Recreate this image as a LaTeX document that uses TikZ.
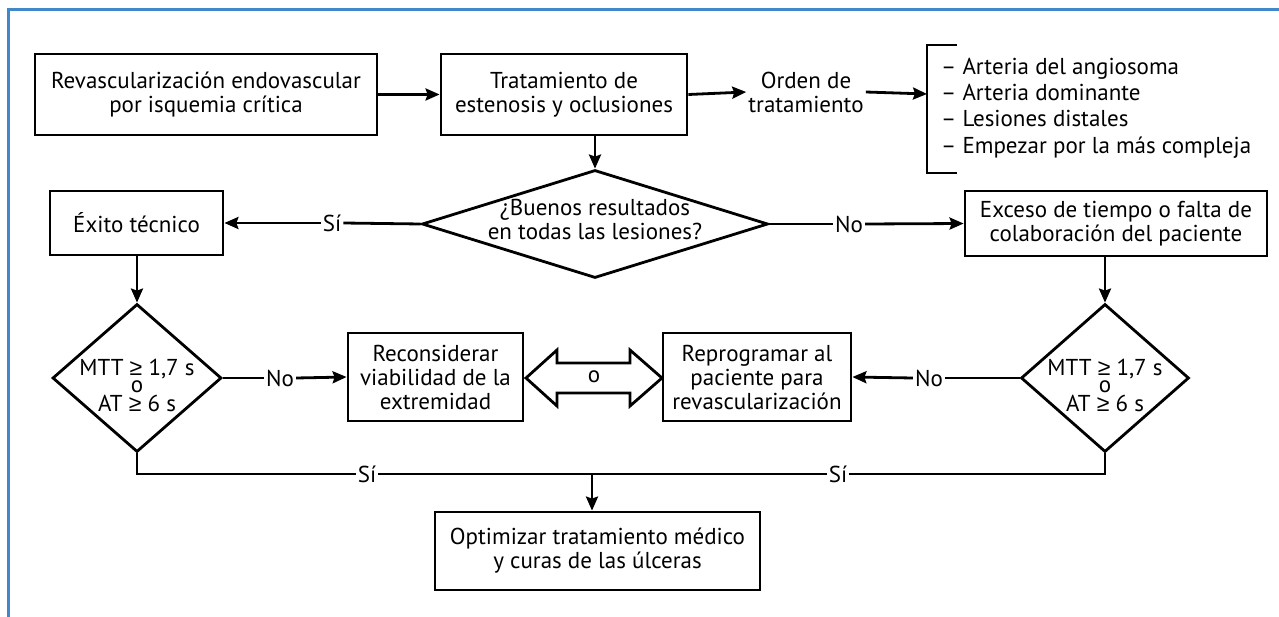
\documentclass[tikz,border=0pt]{standalone}
\usepackage{fontspec}
\setmainfont{PT Sans}
\newfontfamily\geqfont{Liberation Sans}
\usetikzlibrary{arrows.meta,shapes.geometric}
\definecolor{frameblue}{RGB}{66,134,204}
\newcommand{\mygeq}{{\geqfont ≥}}
\begin{document}
\begin{tikzpicture}[x=1pt,y=-1pt,
  txt/.style={font=\fontsize{23}{24}\selectfont},
  box/.style={draw, line width=2.8pt, align=center, inner sep=0pt, txt},
  dia/.style={draw, diamond, line width=2.8pt, inner sep=0pt},
  lbl/.style={txt, align=center, inner sep=2pt},
  con/.style={line width=2.8pt},
  arr/.style={con, -{Stealth[length=14pt,width=12pt,inset=2pt]}},
]
\useasboundingbox (0,0) rectangle (1279,617);
\draw[line width=3pt, frameblue] (8,617) -- (8,10) -- (1279,10);

% top row
\node[box, minimum width=342pt, minimum height=81pt] (b1) at (206,94.5) {Revascularización endovascular\\por isquemia crítica};
\node[box, minimum width=246pt, minimum height=81pt] (b2) at (564,94.5) {Tratamiento de\\estenosis y oclusiones};
\node[lbl] (ord) at (806,92) {Orden de\\tratamiento};
\coordinate (brt) at (957,45);
\coordinate (brb) at (957,173);
\coordinate (brm) at (927,94);
\draw[con] (brt) -- (brt -| brm) -- (brb -| brm) -- (brb);
\node[txt, align=left, anchor=west, inner sep=0pt, font=\fontsize{23}{26.3}\selectfont] (items) at (941,108) {– Arteria del angiosoma\\– Arteria dominante\\– Lesiones distales\\– Empezar por la más compleja};
\draw[arr] (b1.east) -- (b2.west);
\draw[arr] (b2.east) -- (ord.west);
\draw[arr] (ord.east) -- (brm);

% decision 1
\node[dia, minimum width=346pt, minimum height=108pt] (d1) at (595,224) {};
\node[lbl] (d1t) at (595,219) {¿Buenos resultados\\en todas las lesiones?};
\draw[arr] (d1.north |- b2.south) -- (d1.north);

\node[box, minimum width=173pt, minimum height=64pt] (ex) at (136.5,223) {Éxito técnico};
\node[box, minimum width=302pt, minimum height=65pt] (exc) at (1116,223.5) {Exceso de tiempo o falta de\\colaboración del paciente};
\node[lbl] (si1) at (332,223) {Sí};
\node[lbl] (no1) at (849,224) {No};
\draw[con] (d1.west) -- (si1.east);
\draw[arr] (si1.west) -- (ex.east);
\draw[con] (d1.east) -- (no1.west);
\draw[arr] (no1.east) -- (exc.west);

% decisions 2 and 3
\node[dia, minimum width=169pt, minimum height=148pt] (d2) at (137,378) {};
\node[dia, minimum width=168pt, minimum height=148pt] (d3) at (1105,378) {};
\foreach \n/\x in {d2/137, d3/1105} {
  \node[txt, anchor=base, inner sep=0pt] (\n a) at (\x,375) {MTT \mygeq{} 1,7 s};
  \node[txt, anchor=base, inner sep=0pt] (\n b) at (\x,392) {o};
  \node[txt, anchor=base, inner sep=0pt] (\n c) at (\x,411) {AT \mygeq{} 6 s};
}
\draw[arr] (ex.south -| d2.north) -- (d2.north);
\draw[arr] (exc.south -| d3.north) -- (d3.north);

\node[box, minimum width=175pt, minimum height=88pt] (rec) at (435.5,377) {Reconsiderar\\viabilidad de la\\extremidad};
\node[box, minimum width=188pt, minimum height=88pt] (rep) at (757,377) {Reprogramar al\\paciente para\\revascularización};
\node[lbl] (no2) at (280,378) {No};
\node[lbl] (no3) at (929,378) {No};
\draw[con] (d2.east) -- (no2.west);
\draw[arr] (no2.east) -- (rec.west);
\draw[con] (d3.west) -- (no3.east);
\draw[arr] (no3.west) -- (rep.east);

% double arrow "o"
\node[txt, inner sep=0pt] (oo) at (594,377) {o};
\draw[line width=2.8pt, line join=miter] (526,378) -- (557,350) -- (557,363) -- (630,363) -- (630,350) -- (662,378) -- (630,406) -- (630,393) -- (557,393) -- (557,406) -- cycle;

% bottom
\node[box, minimum width=325pt, minimum height=78pt] (opt) at (597.5,551) {Optimizar tratamiento médico\\y curas de las úlceras};
\node[lbl] (si2) at (367,474) {Sí};
\node[lbl] (si3) at (838,474) {Sí};
\coordinate (jn) at (592,474);
\draw[con] (d2.south) |- (si2.west);
\draw[con] (si2.east) -- (si3.west);
\draw[con] (si3.east) -| (d3.south);
\draw[arr] (jn) -- (jn |- opt.north);
\end{tikzpicture}
\end{document}
